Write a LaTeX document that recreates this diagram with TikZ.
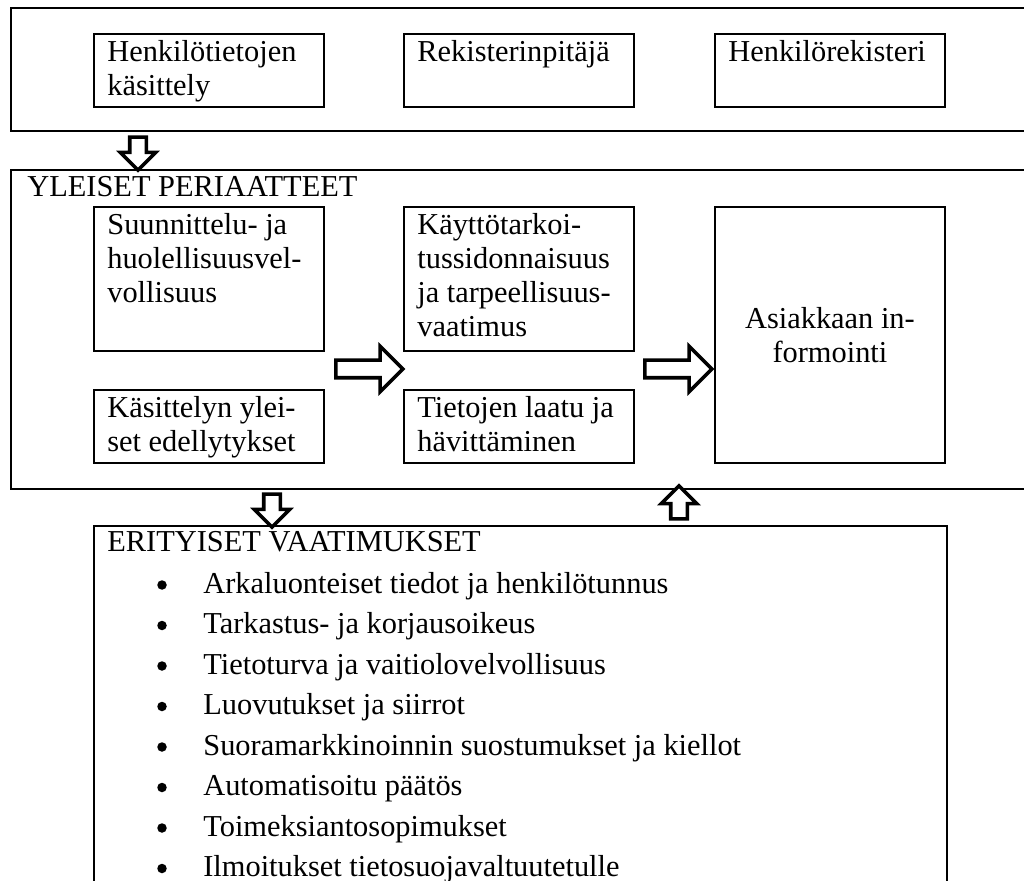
\documentclass[tikz,border=0pt]{standalone}
\usepackage{fontspec}
\setmainfont{Liberation Serif}
\usetikzlibrary{shapes.arrows}
\tikzset{
  frame/.style={rectangle,draw,line width=1.2pt,anchor=north west,inner sep=0pt},
  box/.style={rectangle,draw,line width=1.1pt,anchor=north west,inner sep=0pt,minimum width=4.6cm},
  txt/.style={anchor=base west,align=left,inner sep=0pt,font=\fontsize{17.3}{19.4}\selectfont},
  dot/.style={circle,fill,inner sep=0pt,minimum size=0.19cm},
  bigarrow/.style={single arrow,draw,fill=white,line width=2pt,line join=miter,inner sep=0.13cm,
    single arrow head indent=0pt,single arrow tip angle=90}
}

\begin{document}
\begin{tikzpicture}[x=0.02cm,y=-0.02cm]
  \clip (0,0) rectangle (1024,881);
  % three main frames
  \node[frame,minimum width=20.8cm,minimum height=2.46cm] (top) at (10,7) {};
  \node[frame,minimum width=20.8cm,minimum height=6.38cm] (yp) at (10,169) {};
  \node[frame,minimum width=17.06cm,minimum height=8cm] (ev) at (93,525) {};

  % first row (text nodes are placed by the baseline of their last line)
  \node[box,minimum height=1.46cm] (hk) at (93,33) {};
  \node[box,minimum height=1.46cm] (rp) at (403,33) {};
  \node[box,minimum height=1.46cm] (hr) at (714,33) {};
  \node[txt] (hkt) at (107,96) {Henkilötietojen\\käsittely};
  \node[txt] (rpt) at (417,62) {Rekisterinpitäjä};
  \node[txt] (hrt) at (728,62) {Henkilörekisteri};

  % yleiset periaatteet
  \node[txt] (ypt) at (27,197) {YLEISET PERIAATTEET};
  \node[box,minimum height=2.88cm] (su) at (93,206) {};
  \node[box,minimum height=1.46cm] (ky) at (93,389) {};
  \node[box,minimum height=2.88cm] (kt) at (403,206) {};
  \node[box,minimum height=1.46cm] (tl) at (403,389) {};
  \node[box,minimum height=5.12cm] (ai) at (714,206) {};
  \node[txt] (sut) at (107,303) {Suunnittelu- ja\\huolellisuusvel-\\vollisuus};
  \node[txt] (kyt) at (107,452) {Käsittelyn ylei-\\set edellytykset};
  \node[txt] (ktt) at (417,337) {Käyttötarkoi-\\tussidonnaisuus\\ja tarpeellisuus-\\vaatimus};
  \node[txt] (tlt) at (417,452) {Tietojen laatu ja\\hävittäminen};
  \node[txt,anchor=center,align=center] (ait) at (ai.center) {Asiakkaan in-\\formointi};

  % block arrows
  \node[bigarrow,rotate=-90,minimum height=0.66cm,single arrow head extend=0.19cm] (a1) at (138,149.5) {};
  \node[bigarrow,minimum height=1.34cm,inner sep=0.14cm,single arrow head extend=0.28cm] (a2) at (365,369) {};
  \node[bigarrow,minimum height=1.34cm,inner sep=0.14cm,single arrow head extend=0.28cm] (a3) at (674,369) {};
  \node[bigarrow,rotate=-90,minimum height=0.66cm,single arrow head extend=0.19cm] (a4) at (272,506.5) {};
  \node[bigarrow,rotate=90,minimum height=0.66cm,single arrow head extend=0.19cm] (a5) at (679,506.5) {};

  % erityiset vaatimukset
  \node[txt] (evt) at (107,551) {ERITYISET VAATIMUKSET};
  \foreach \entry [count=\i] in {Arkaluonteiset tiedot ja henkilötunnus,
      Tarkastus- ja korjausoikeus, Tietoturva ja vaitiolovelvollisuus,
      Luovutukset ja siirrot, Suoramarkkinoinnin suostumukset ja kiellot,
      Automatisoitu päätös, Toimeksiantosopimukset,
      Ilmoitukset tietosuojavaltuutetulle} {
    \node[dot] (b\i) at (162,{585+40.5*(\i-1)}) {};
    \node[txt] (e\i) at (203,{593+40.5*(\i-1)}) {\entry};
  }
\end{tikzpicture}
\end{document}
